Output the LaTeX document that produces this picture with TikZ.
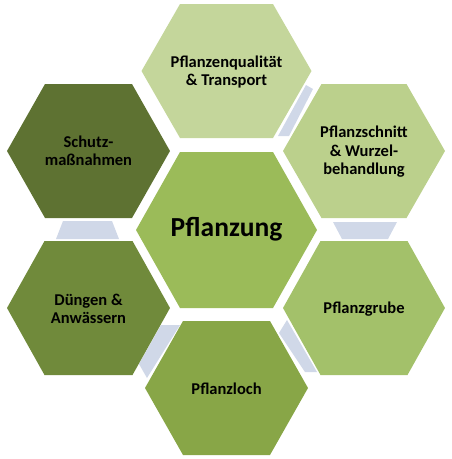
\documentclass[tikz,border=0pt]{standalone}
\usepackage{fontspec}
\setmainfont{Carlito}
\definecolor{cTop}{RGB}{196,214,155}
\definecolor{cTR}{RGB}{187,208,140}
\definecolor{cBR}{RGB}{163,193,106}
\definecolor{cBot}{RGB}{136,166,71}
\definecolor{cBL}{RGB}{112,138,59}
\definecolor{cTL}{RGB}{94,114,50}
\definecolor{cCen}{RGB}{155,187,89}
\definecolor{cLink}{RGB}{208,216,232}
\tikzset{
  hexlabel/.style={align=center,font=\bfseries\fontsize{16.5}{18.5}\selectfont,text=black,inner sep=0pt},
  linkshape/.style={fill=cLink,draw=none}
}
\newcommand{\myhex}[6]{% cx cy w a h color
  \fill[#6] (#1-#3,#2) -- (#1-#4,#2-#5) -- (#1+#4,#2-#5) -- (#1+#3,#2) -- (#1+#4,#2+#5) -- (#1-#4,#2+#5) -- cycle;}
\begin{document}
\begin{tikzpicture}[x=1pt,y=-1pt]
\useasboundingbox (0,0) rectangle (451,459);
% connectors
\fill[linkshape] (306,85) -- (313,89) -- (289,136) -- (278,136) -- cycle;
\fill[linkshape] (333,222) -- (397,222) -- (388,239) -- (342,239) -- cycle;
\fill[linkshape] (287,320) -- (279,333) -- (305,372) -- (317,372) -- cycle;
\fill[linkshape] (161,325) -- (180,325) -- (147,378) -- (139,364) -- cycle;
\fill[linkshape] (63,221) -- (112,221) -- (119,239) -- (56,239) -- cycle;
% hexagons
\myhex{226.5}{71}{85}{46.5}{67}{cTop}
\myhex{364}{151}{81}{42.5}{67}{cTR}
\myhex{364}{308}{81}{43.5}{67}{cBR}
\myhex{226.5}{388}{81.5}{43.5}{67}{cBot}
\myhex{88.5}{308}{81.5}{44}{67}{cBL}
\myhex{88.5}{151}{81.5}{43.5}{67}{cTL}
\myhex{226.5}{230}{90.5}{46.5}{78}{cCen}
% labels
\node[hexlabel] (top) at (226.5,72) {Pflanzenqualität\\\& Transport};
\node[hexlabel] (tr) at (364,152) {Pflanzschnitt\\\& Wurzel-\\behandlung};
\node[hexlabel] (br) at (364,309) {Pflanzgrube};
\node[hexlabel] (bot) at (226.5,389) {Pflanzloch};
\node[hexlabel] (bl) at (88.5,309) {Düngen \&\\Anwässern};
\node[hexlabel] (tl) at (88.5,151) {Schutz-\\maßnahmen};
\node[hexlabel,font=\bfseries\fontsize{27.5}{30}\selectfont] (cen) at (226.5,229) {Pflanzung};
\end{tikzpicture}
\end{document}
